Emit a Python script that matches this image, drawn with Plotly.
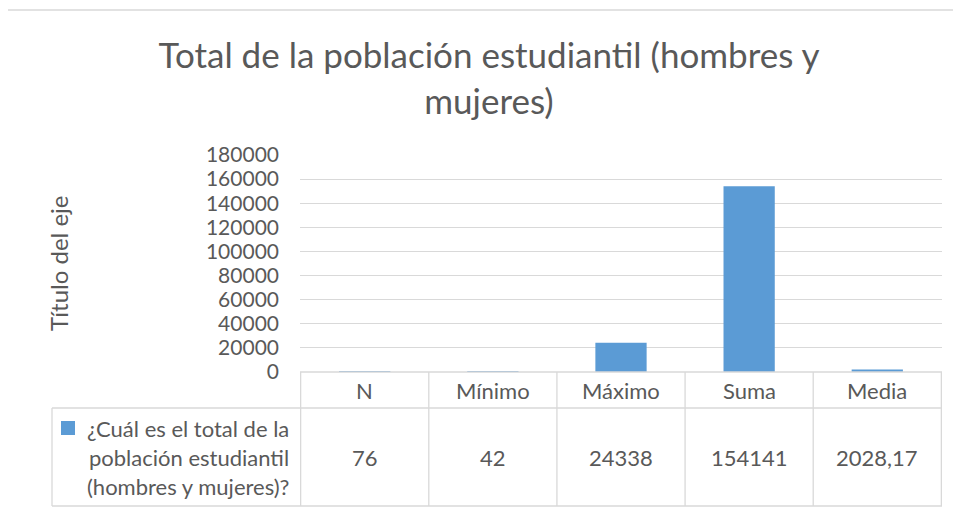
import plotly.graph_objects as go

# ==============================
# DATA
# ==============================

categories = ["N", "Mínimo", "Máximo", "Suma", "Media"]
values = [76, 42, 24338, 154141, 2028.17]
series_name_lines = ["¿Cuál es el total de la", "población estudiantil", "(hombres y mujeres)?"]
y_ticks = [0, 20000, 40000, 60000, 80000, 100000, 120000, 140000, 160000, 180000]

title_text = "Total de la población estudiantil (hombres y<br>mujeres)"
axis_title = "Título del eje"

BLUE = "#5B9BD5"
TEXT = "#595959"
GRID = "#D9D9D9"
FONT = "Lato"

W, H = 961, 512
OFFSET = 8  # page body margin, figure is drawn 8px right / down


def px_x(x):
    # page pixel -> paper fraction
    return (x - OFFSET) / W


def px_y(y):
    return (H - (y - OFFSET)) / H


def fmt(v):
    if float(v).is_integer():
        return str(int(v))
    return f"{v:.2f}".replace(".", ",")


# ==============================
# BUILD GRAPH
# ==============================

fig = go.Figure()

fig.add_trace(go.Bar(
    x=categories,
    y=values,
    marker=dict(color=BLUE, line=dict(width=0)),
    showlegend=False,
    hoverinfo="x+y",
))

# plot area / table geometry (page pixels)
plot_left, plot_right = 300, 942
plot_top, plot_bottom = 155, 372
header_bottom, table_bottom = 408, 506
legend_left = 52

shapes = []
line_style = dict(color=GRID, width=1.3)

# chart outer border
shapes.append(dict(type="rect", xref="paper", yref="paper",
                   x0=px_x(6), x1=1.05, y0=-0.05, y1=px_y(10),
                   line=dict(color="#D9D9D9", width=1.3)))

# horizontal table lines
shapes.append(dict(type="line", xref="paper", yref="paper",
                   x0=px_x(plot_left), x1=px_x(plot_right),
                   y0=px_y(plot_bottom), y1=px_y(plot_bottom), line=line_style))
for yy in (header_bottom, table_bottom):
    shapes.append(dict(type="line", xref="paper", yref="paper",
                       x0=px_x(legend_left), x1=px_x(plot_right),
                       y0=px_y(yy), y1=px_y(yy), line=line_style))

# vertical table lines at category boundaries
for i in range(len(categories) + 1):
    shapes.append(dict(type="line", xref="x", yref="paper",
                       x0=i - 0.5, x1=i - 0.5,
                       y0=px_y(table_bottom), y1=px_y(plot_bottom), line=line_style))
shapes.append(dict(type="line", xref="paper", yref="paper",
                   x0=px_x(legend_left), x1=px_x(legend_left),
                   y0=px_y(table_bottom), y1=px_y(header_bottom), line=line_style))

# legend key square
shapes.append(dict(type="rect", xref="paper", yref="paper",
                   x0=px_x(61), x1=px_x(75), y0=px_y(435), y1=px_y(421),
                   fillcolor=BLUE, line=dict(width=0)))

annotations = []

# header row + value row
for cat, val in zip(categories, values):
    annotations.append(dict(x=cat, xref="x", xanchor="center",
                            y=px_y(390), yref="paper", yanchor="middle",
                            text=cat, showarrow=False,
                            font=dict(family=FONT, size=22, color=TEXT)))
    annotations.append(dict(x=cat, xref="x", xanchor="center",
                            y=px_y(457), yref="paper", yanchor="middle",
                            text=fmt(val), showarrow=False,
                            font=dict(family=FONT, size=22, color=TEXT)))

# series name in the legend cell
for k, line in enumerate(series_name_lines):
    annotations.append(dict(x=px_x(291), xref="paper", xanchor="right",
                            y=px_y(428 + 29 * k), yref="paper", yanchor="middle",
                            text=line, showarrow=False,
                            font=dict(family=FONT, size=22, color=TEXT)))

# axis title
annotations.append(dict(x=px_x(58), xref="paper", xanchor="center",
                        y=px_y(264), yref="paper", yanchor="middle",
                        text=axis_title, textangle=-90, showarrow=False,
                        font=dict(family=FONT, size=24, color=TEXT)))

# ==============================
# STYLE
# ==============================

fig.update_layout(
    width=W,
    height=H,
    margin=dict(l=0, r=0, t=0, b=0),
    paper_bgcolor="white",
    plot_bgcolor="white",
    title=dict(text=title_text, x=px_x(489), xanchor="center",
               y=px_y(68), yanchor="top",
               font=dict(family=FONT, size=35, color=TEXT)),
    bargap=0.6,
    xaxis=dict(domain=[px_x(plot_left), px_x(plot_right)],
               showticklabels=False, showgrid=False, zeroline=False,
               showline=False, ticks="", fixedrange=True, automargin=False),
    yaxis=dict(domain=[px_y(plot_bottom), px_y(plot_top)],
               range=[0, 180000], tickvals=y_ticks, tickformat="d",
               showgrid=True, gridcolor=GRID, gridwidth=1.3,
               zeroline=False, showline=False, ticks="",
               ticklabelstandoff=20, automargin=False,
               tickfont=dict(family=FONT, size=21, color=TEXT)),
    shapes=shapes,
    annotations=annotations,
)

fig.write_html("out.html")
